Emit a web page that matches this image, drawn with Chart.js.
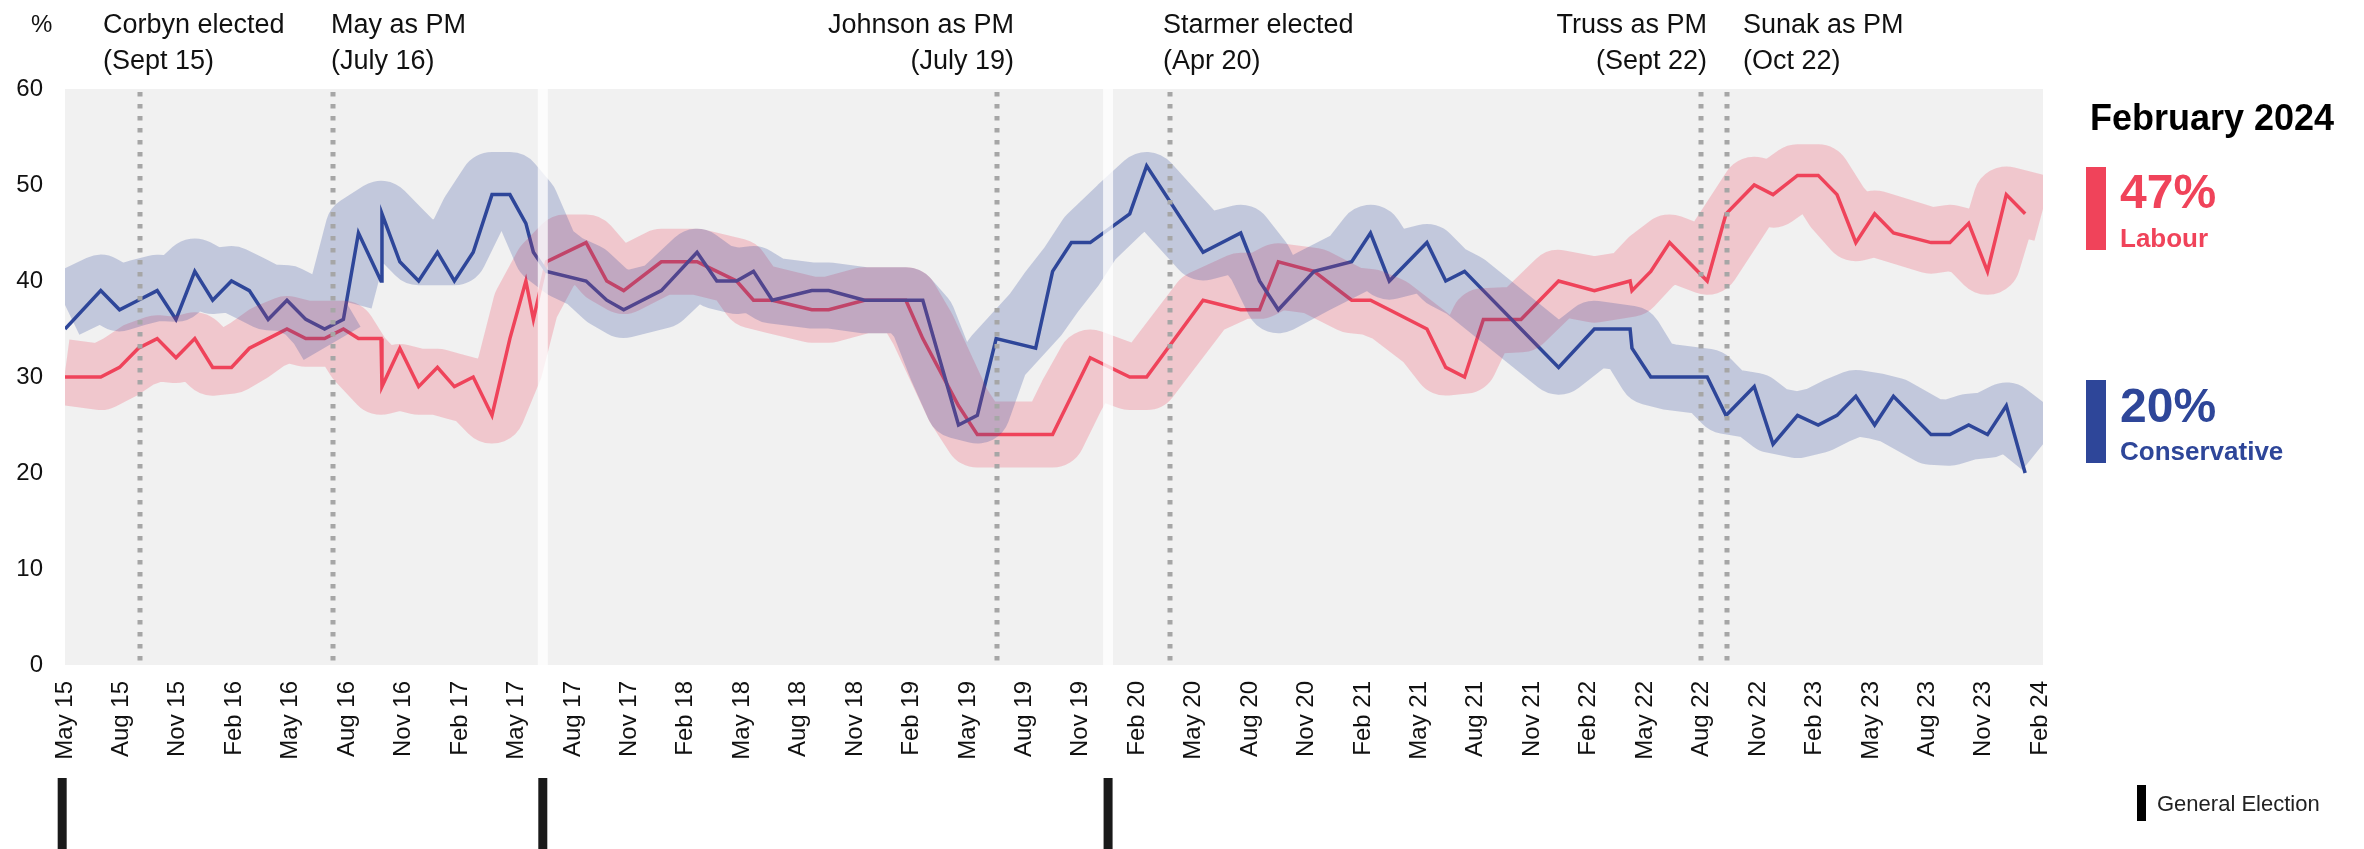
<!DOCTYPE html>
<html>
<head>
<meta charset="utf-8">
<script src="https://cdn.jsdelivr.net/npm/chart.js@4.4.1/dist/chart.umd.min.js"></script>
<style>
html,body{margin:0;padding:0;background:#ffffff;}
canvas{display:block;}
</style>
</head>
<body>
<canvas id="c" width="2364" height="849"></canvas>
<script>
// ---------- DATA (x = months since May 2015) ----------
const tickMonths = [0,3,6,9,12,15,18,21,24,27,30,33,36,39,42,45,48,51,54,57,60,63,66,69,72,75,78,81,84,87,90,93,96,99,102,105];
const tickLabels = ['May 15','Aug 15','Nov 15','Feb 16','May 16','Aug 16','Nov 16','Feb 17','May 17','Aug 17','Nov 17','Feb 18','May 18','Aug 18','Nov 18','Feb 19','May 19','Aug 19','Nov 19','Feb 20','May 20','Aug 20','Nov 20','Feb 21','May 21','Aug 21','Nov 21','Feb 22','May 22','Aug 22','Nov 22','Feb 23','May 23','Aug 23','Nov 23','Feb 24'];
const yTicks = [0,10,20,30,40,50,60];

const pollMonths = [0,1.9,2.9,3.9,4.9,5.9,6.9,7.85,8.85,9.8,10.8,11.8,12.8,13.8,14.8,15.6,16.8,16.85,17.8,18.8,19.8,20.7,21.7,22.7,23.65,24.5,24.9,
  25.6,27.7,28.8,29.7,31.7,33.6,34.65,35.7,36.6,37.6,39.7,40.6,42.5,44.7,45.6,47.5,48.5,49.5,51.6,52.5,53.5,54.5,
  56.6,57.5,60.5,62.5,63.5,64.5,66.4,68.4,69.4,70.4,72.4,73.4,74.4,75.4,77.4,79.4,81.3,83.2,83.3,84.3,85.3,87.3,88.3,89.8,90.8,92.1,93.2,94.2,95.2,96.2,97.2,99.2,100.2,101.2,102.2,103.2,104.2];
const conservative = [35,39,37,38,39,36,41,38,40,39,36,38,36,35,36,45,40,47,42,40,43,40,43,49,49,46,43,
  41,40,38,37,39,43,40,40,41,38,39,39,38,38,38,25,26,34,33,41,44,44,
  47,52,43,45,40,37,41,42,45,40,44,40,41,39,35,31,35,35,33,30,30,30,26,29,23,26,25,26,28,25,28,24,24,25,24,27,20];
const labour = [30,30,31,33,34,32,34,31,31,33,34,35,34,34,35,34,34,29,33,29,31,29,30,26,34,40,36,
  42,44,40,39,42,42,41,40,38,38,37,37,38,38,34,27,24,24,24,24,28,32,
  30,30,38,37,37,42,41,38,38,37,35,31,30,36,36,40,39,40,39,41,44,40,47,50,49,51,51,49,44,47,45,44,44,46,41,49,47];

// smoothed trend bands
const conTrendMonths = [0,1.9,2.9,3.9,4.9,5.9,6.9,7.85,8.85,9.8,10.8,11.8,12.8,13.6,14.2,14.4,14.6,15.6,16.8,17.8,18.8,19.8,20.7,21.7,22.7,23.65,24.5,25.6,26.6,27.7,28.8,29.7,31.7,33.6,34.65,35.7,36.6,37.6,39.7,40.6,42.5,44.7,45.6,46.6,47.5,48.5,49.5,51.6,52.5,53.5,54.5,56.1,57.5,60.5,62.5,63.5,64.5,66.4,68.4,69.4,70.4,72.4,73.4,74.4,79.4,81.3,83.2,84.3,85.3,87.3,88.3,89.8,90.8,92.1,93.2,94.2,95.2,96.2,97.2,99.2,100.2,101.2,102.2,103.2,104.2,105.15];
const conTrend = [37.5,39.3,38.2,38.8,39.3,39.2,41,40,40.2,39.3,38.3,38.2,37.2,35.5,33.5,null,38,45.5,47,45,43,43,43,47,50,50,48,43,41.5,40.5,38.5,37.5,38.5,42,40.5,40,40.2,39,38.5,38.5,38,38,36,31,27,26.5,32,36.5,39,41.5,44.5,47.5,50,43.5,44.5,42,38,40,42,44.5,41.5,42.5,40.5,39.5,31.6,34.5,34,30.5,30,29.5,27.5,27,25.5,25,25.5,26.5,27.3,27,26.5,24.3,24.2,24.8,25,26,24.5,23];
const labTrendMonths = [0,1.9,2.9,3.9,4.9,5.9,6.9,7.85,8.85,9.8,10.8,11.8,12.8,13.8,14.8,15.6,16.8,17.8,18.8,19.8,20.7,21.7,22.7,23.65,24.5,25.6,26.6,27.7,28.8,29.7,31.7,33.6,35.7,36.6,37.6,39.7,40.6,42.5,44.7,45.6,47.5,48.5,52.5,53.5,54.5,56.6,57.5,60.5,62.5,63.5,64.5,66.4,68.4,69.4,70.4,72.4,73.4,74.4,75.4,77.4,79.4,81.3,83.2,84.3,85.3,87.3,88.3,89.8,90.8,92.1,93.2,94.2,95.2,96.2,97.2,99.2,100.2,101.2,102.2,103.2,104.2,105.15];
const labTrend = [30.5,30,31,32.3,33,32.8,33.3,31.5,31.7,32.8,34.2,35,34.5,34.5,34.5,32,29.5,30,29.5,29.5,29,28.5,26.5,31,37.5,41.5,43.5,43.5,41,40,42,42,41,38.5,38,37,37,38,38,35,27,24,24,28,31.5,30,30,37.7,39.5,39.5,40.5,40,38,37.8,37,34,31.5,31.7,35.8,36,39.8,39.1,39.7,42,43.5,42,45,49.5,49,50.8,50.8,47.7,45.5,46,45.4,44.2,44.5,44,42,48.5,48,47.5];

// events and elections
const eventMonths = [3.97,14.26,49.56,58.73,86.98,88.33];
const eventLabels = [['Corbyn elected','(Sept 15)'],['May as PM','(July 16)'],['Johnson as PM','(July 19)'],['Starmer elected','(Apr 20)'],['Truss as PM','(Sept 22)'],['Sunak as PM','(Oct 22)']];
const electionMonths = [-0.15,25.4,55.45];
const latestLabel = 'February 2024';
const partyNames = ['Labour','Conservative'];

// ---------- STYLE ----------
const RED = 'rgb(240,67,90)';
const BLUE = 'rgb(46,70,153)';
const RED_BAND = 'rgba(240,67,90,0.24)';
const BLUE_BAND = 'rgba(46,70,153,0.24)';
const FONT = "'Liberation Sans', Arial, Helvetica, sans-serif";

const toXY = (xs, ys) => xs.map((m, i) => ({x: m, y: ys[i]}));

const layoutPlugin = {
  id: 'layoutPlugin',
  beforeDraw(chart) {
    const {ctx, chartArea: a} = chart;
    ctx.save();
    ctx.fillStyle = '#f1f1f1';
    ctx.fillRect(a.left, a.top, a.right - a.left, a.bottom - a.top);
    ctx.restore();
  },
  afterDatasetsDraw(chart) {
    const {ctx, chartArea: a, scales: {x}} = chart;
    ctx.save();
    // general election gaps
    electionMonths.forEach(m => {
      const px = x.getPixelForValue(m);
      if (px > a.left + 6 && px < a.right - 6) {
        ctx.fillStyle = 'rgba(255,255,255,0.75)';
        ctx.fillRect(px - 5, a.top, 10, a.bottom - a.top);
      }
    });
    // dotted event lines
    ctx.strokeStyle = '#a6a6a6';
    ctx.lineWidth = 5;
    ctx.setLineDash([4.5, 7.5]);
    eventMonths.forEach(m => {
      const px = Math.round(x.getPixelForValue(m));
      ctx.beginPath();
      ctx.moveTo(px, a.top + 3);
      ctx.lineTo(px, a.bottom - 4);
      ctx.stroke();
    });
    ctx.restore();
  },
  afterDraw(chart) {
    const {ctx, scales: {x}} = chart;
    ctx.save();
    // election markers below axis
    ctx.fillStyle = '#1a1a1a';
    electionMonths.forEach(m => {
      const px = x.getPixelForValue(m);
      ctx.fillRect(px - 4.5, 778, 9, 71);
    });
    // % unit
    ctx.fillStyle = '#111';
    ctx.textBaseline = 'alphabetic';
    ctx.font = '24px ' + FONT;
    ctx.textAlign = 'left';
    ctx.fillText('%', 31, 32);
    // event annotations
    const textPos = [[103,'left'],[331,'left'],[1014,'right'],[1163,'left'],[1707,'right'],[1743,'left']];
    ctx.font = '27px ' + FONT;
    eventLabels.forEach((lines, i) => {
      ctx.textAlign = textPos[i][1];
      ctx.fillText(lines[0], textPos[i][0], 33);
      ctx.fillText(lines[1], textPos[i][0], 69);
    });
    // right panel
    ctx.textAlign = 'left';
    ctx.fillStyle = '#000';
    ctx.font = 'bold 36px ' + FONT;
    ctx.fillText(latestLabel, 2090, 130);
    ctx.fillStyle = RED;
    ctx.fillRect(2086, 167, 20, 83);
    ctx.font = 'bold 48px ' + FONT;
    ctx.fillText(labour[labour.length - 1] + '%', 2120, 208);
    ctx.font = 'bold 26px ' + FONT;
    ctx.fillText(partyNames[0], 2120, 247);
    ctx.fillStyle = BLUE;
    ctx.fillRect(2086, 380, 20, 83);
    ctx.font = 'bold 48px ' + FONT;
    ctx.fillText(conservative[conservative.length - 1] + '%', 2120, 422);
    ctx.font = 'bold 26px ' + FONT;
    ctx.fillText(partyNames[1], 2120, 460);
    // legend for general election
    ctx.fillStyle = '#000';
    ctx.fillRect(2137, 785, 9, 36);
    ctx.fillStyle = '#222';
    ctx.font = '22px ' + FONT;
    ctx.fillText('General Election', 2157, 811);
    ctx.restore();
  }
};

new Chart(document.getElementById('c'), {
  type: 'line',
  data: {
    datasets: [
      {label: 'Conservative trend', data: toXY(conTrendMonths, conTrend), borderColor: BLUE_BAND, borderWidth: 66,
       borderCapStyle: 'butt', borderJoinStyle: 'round', pointRadius: 0, tension: 0, spanGaps: false, order: 0, clip: 0},
      {label: 'Labour trend', data: toXY(labTrendMonths, labTrend), borderColor: RED_BAND, borderWidth: 66,
       borderCapStyle: 'butt', borderJoinStyle: 'round', pointRadius: 0, tension: 0, spanGaps: false, order: 1, clip: 0},
      {label: 'Conservative', data: toXY(pollMonths, conservative), borderColor: BLUE, borderWidth: 3.5,
       borderJoinStyle: 'miter', pointRadius: 0, tension: 0, order: 2, clip: 0},
      {label: 'Labour', data: toXY(pollMonths, labour), borderColor: RED, borderWidth: 3.5,
       borderJoinStyle: 'miter', pointRadius: 0, tension: 0, order: 3, clip: 0}
    ]
  },
  options: {
    responsive: false,
    devicePixelRatio: 1,
    animation: false,
    events: [],
    layout: {padding: {top: 89, right: 321, left: 0, bottom: 0}},
    plugins: {legend: {display: false}, tooltip: {enabled: false}},
    scales: {
      x: {
        type: 'linear', min: 0, max: 105.15,
        grid: {display: false, drawTicks: false},
        border: {display: false},
        afterFit: s => { s.height = 184; },
        afterBuildTicks: s => { s.ticks = tickMonths.map(v => ({value: v})); },
        ticks: {
          autoSkip: false, maxRotation: 90, minRotation: 90, padding: 16,
          color: '#111', font: {family: FONT, size: 24},
          callback: (v, i) => tickLabels[i]
        }
      },
      y: {
        min: 0, max: 60,
        grid: {display: false, drawTicks: false},
        border: {display: false},
        afterFit: s => { s.width = 65; },
        afterBuildTicks: s => { s.ticks = yTicks.map(v => ({value: v})); },
        ticks: {padding: 22, color: '#111', font: {family: FONT, size: 24}}
      }
    }
  },
  plugins: [layoutPlugin]
});
</script>
</body>
</html>
